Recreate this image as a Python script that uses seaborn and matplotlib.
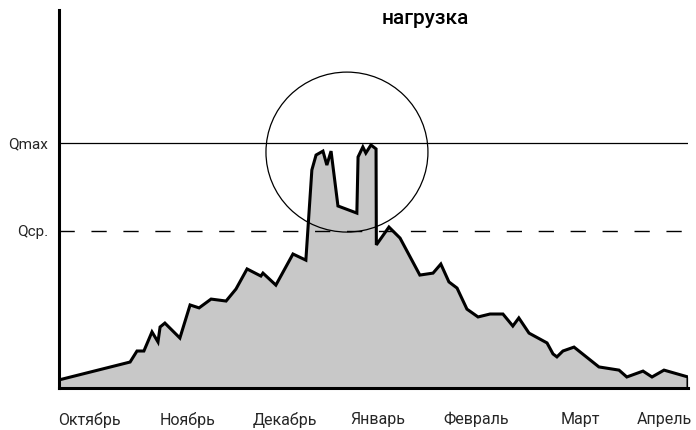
import matplotlib
matplotlib.use("Agg")
import matplotlib.pyplot as plt
from matplotlib.patches import Ellipse
import pandas as pd
import seaborn as sns

# Heating-season load, day 0 = 1 October
days = [0.0, 23.7, 26.0, 28.3, 31.0, 33.0, 33.7, 35.3, 40.3, 43.7,
        46.7, 50.7, 55.7, 59.0, 62.7, 67.3, 68.0, 72.3, 78.0, 82.3,
        84.3, 85.7, 88.0, 89.3, 90.7, 93.0, 99.3, 99.7, 101.3, 102.3,
        104.0, 105.7, 105.8, 110.0, 113.7, 120.3, 124.7, 127.3, 130.0, 132.7,
        136.0, 139.7, 143.7, 148.0, 151.3, 153.3, 156.7, 162.7, 164.7, 166.0,
        168.0, 171.7, 180.0, 186.7, 189.3, 194.7, 197.7, 201.7, 209.7, 209.7]
load = [3.3, 10.6, 15.1, 15.1, 22.9, 18.8, 24.9, 26.5, 20.4, 33.9,
        32.7, 36.3, 35.5, 40.4, 48.6, 45.7, 46.9, 42.0, 54.7, 52.2,
        89.0, 95.1, 96.7, 91.0, 96.7, 74.3, 71.4, 94.3, 98.4, 95.9,
        99.2, 97.6, 58.4, 65.7, 61.2, 46.1, 46.9, 50.6, 43.3, 40.8,
        32.2, 29.0, 30.2, 30.2, 25.3, 28.6, 22.4, 18.4, 13.9, 12.7,
        15.1, 16.7, 8.6, 7.3, 4.5, 6.9, 4.5, 7.3, 4.5, 0.0]

month_pos = [10.2, 42.7, 75.3, 106.3, 139.0, 173.7, 201.7]
month_names = ["Октябрь", "Ноябрь", "Декабрь", "Январь", "Февраль", "Март", "Апрель"]

q_levels = [64.1, 100.0]
q_names = ["Qср.", "Qmax"]

# peak zone highlighted by an ellipse (centre day, centre load, width, height)
peak_zone = (96.0, 96.3, 54.0, 65.3)

title = "нагрузка"

sns.set_theme(style="white")
plt.rcParams["font.family"] = ["Roboto", "DejaVu Sans"]

df = pd.DataFrame({"day": days, "load": load})

fig = plt.figure(figsize=(6.96, 4.30), dpi=100)
ax = fig.add_axes([59 / 696, 1 - 388 / 430, 629 / 696, 378 / 430])

ax.fill_between(df["day"], df["load"], 0, color="#c8c8c8", lw=0, zorder=1)
sns.lineplot(data=df, x="day", y="load", estimator=None, sort=False,
             color="black", lw=2.2, solid_joinstyle="miter", ax=ax, zorder=3)

ax.axhline(q_levels[1], color="black", lw=0.9, zorder=2)
ax.axhline(q_levels[0], color="black", lw=1.0, linestyle=(0, (11, 12)), zorder=2)

cx, cy, w, h = peak_zone
ax.add_patch(Ellipse((cx, cy), w, h, fill=False, edgecolor="black", lw=0.9, zorder=4))

ax.set_xlim(0, 209.7)
ax.set_ylim(0, 154.3)

ax.set_xticks(month_pos)
ax.set_xticklabels(month_names, fontsize=11.5)
ax.set_yticks(q_levels)
ax.set_yticklabels(q_names, fontsize=11)
ax.tick_params(axis="x", length=0, pad=17)
ax.tick_params(axis="y", length=0, pad=8)
ax.set_xlabel("")
ax.set_ylabel("")

for side in ("top", "right"):
    ax.spines[side].set_visible(False)
for side in ("left", "bottom"):
    ax.spines[side].set_color("black")
    ax.spines[side].set_linewidth(2.2)

fig.text(425.5 / 696, 1 - 19 / 430, title, ha="center", va="center",
         fontsize=15, fontweight="medium", color="black")

fig.savefig("out.png", dpi=100)
